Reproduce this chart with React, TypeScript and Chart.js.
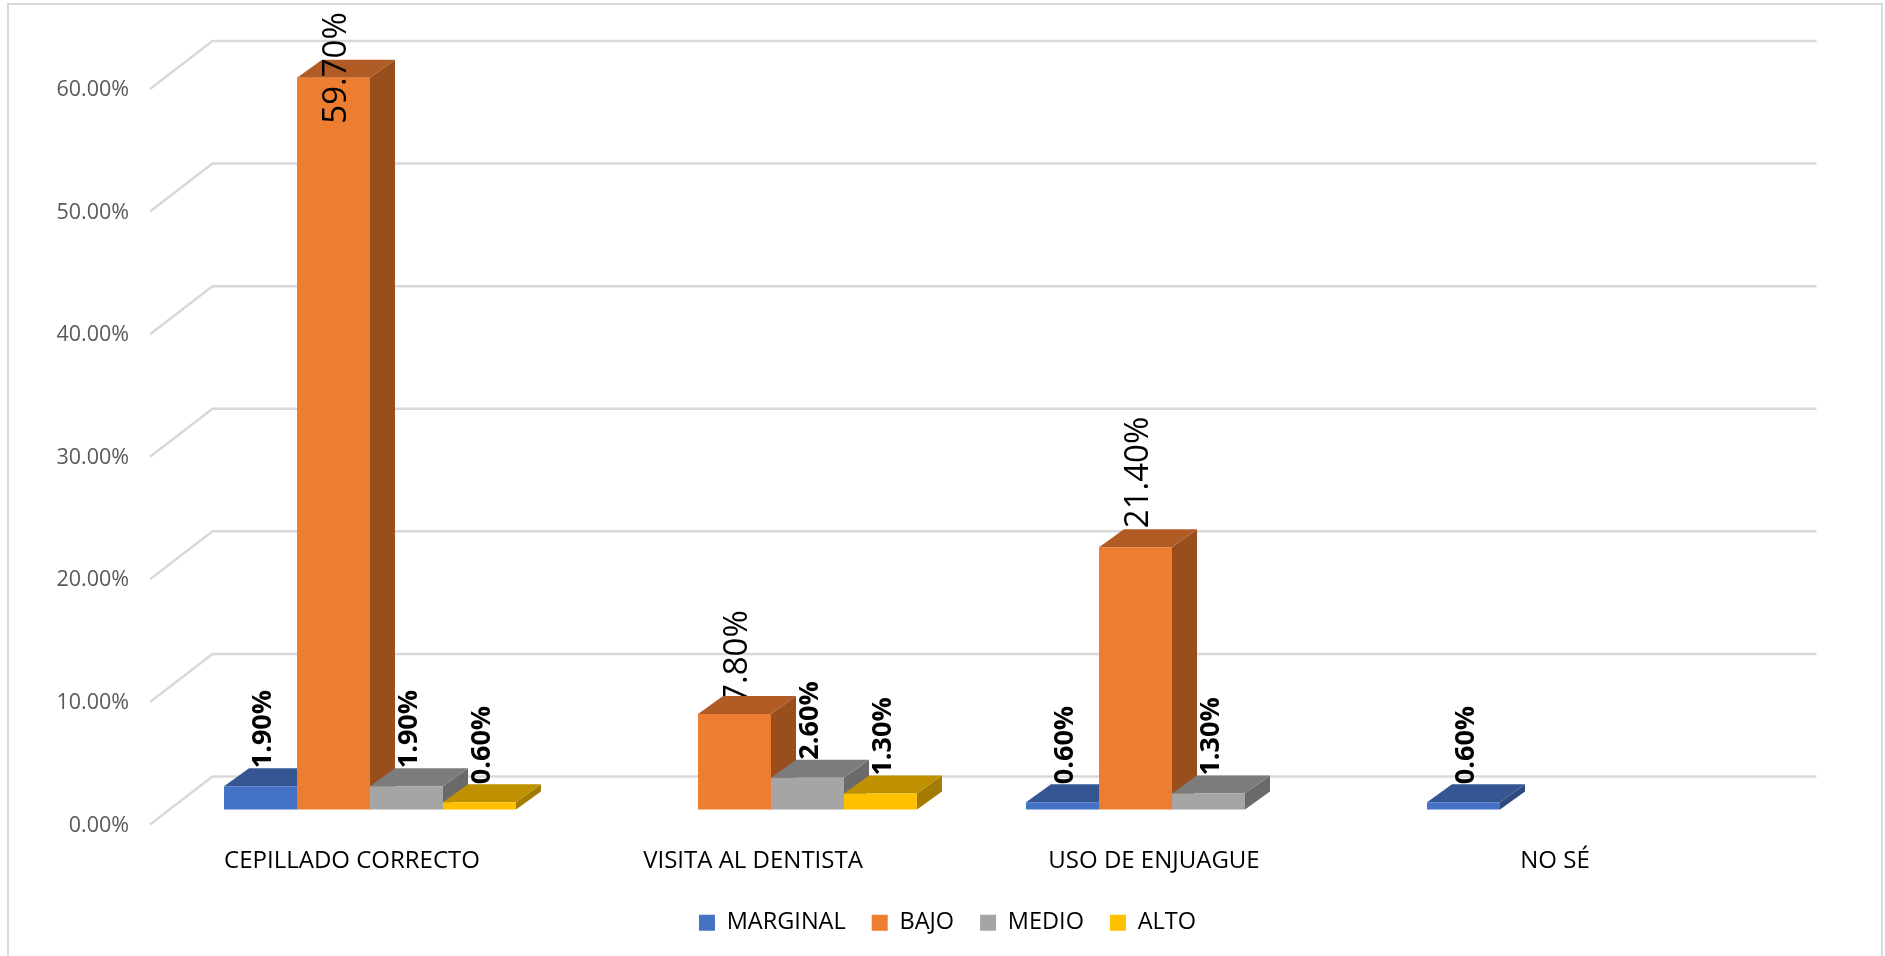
import React, { useEffect, useRef } from "react";
import { Chart, registerables } from "chart.js";

Chart.register(...registerables);

const categories = ["CEPILLADO CORRECTO", "VISITA AL DENTISTA", "USO DE ENJUAGUE", "NO SÉ"];
const marginal = [1.9, null, 0.6, 0.6];
const bajo = [59.7, 7.8, 21.4, null];
const medio = [1.9, 2.6, 1.3, null];
const alto = [0.6, 1.3, null, null];
const seriesNames = ["MARGINAL", "BAJO", "MEDIO", "ALTO"];
const yTicks = [0, 10, 20, 30, 40, 50, 60];

const FONT = "'Open Sans', sans-serif";
const frontColors = ["#4472C4", "#ED7D31", "#A5A5A5", "#FFC000"];
const topColors = ["#355693", "#B05C24", "#7C7C7C", "#BF9000"];
const sideColors = ["#2C4A80", "#984F1D", "#6A6A6A", "#A37B00"];
const labelFonts = [`bold 27px ${FONT}`, `33px ${FONT}`, `bold 27px ${FONT}`, `bold 27px ${FONT}`];

// 3D projection, in pixels, relative to the plane of the bar fronts
const DEPTH_X = 25;
const DEPTH_Y = 18;
const WALL_BACK_X = 43;
const WALL_BACK_Y = 33;
const WALL_FRONT_X = 19.5;
const WALL_FRONT_Y = 15;

// where a label starts above its bar's front top edge ("series:category")
const labelLift: Record<string, number> = { "1:0": -46, "1:1": 11, "1:2": 19 };
const DEFAULT_LIFT = 18;
const labelsBehindBar = new Set(["1:1"]);

function drawLabel(chart: any, d: number, i: number) {
  const el = chart.getDatasetMeta(d).data[i];
  const v = chart.data.datasets[d].data[i];
  if (v == null || !el) return;
  const lift = labelLift[`${d}:${i}`] ?? DEFAULT_LIFT;
  const { ctx } = chart;
  ctx.save();
  ctx.translate(el.x + 3, el.y - lift);
  ctx.rotate(-Math.PI / 2);
  ctx.font = labelFonts[d];
  ctx.fillStyle = "#000000";
  ctx.textAlign = "left";
  ctx.textBaseline = "middle";
  ctx.fillText(`${v.toFixed(2)}%`, 0, 0);
  ctx.restore();
}

const scene3d = {
  id: "scene3d",
  beforeDraw(chart: any) {
    const { ctx, width, height } = chart;
    ctx.save();
    ctx.strokeStyle = "#D9D9D9";
    ctx.lineWidth = 2;
    ctx.beginPath();
    ctx.moveTo(8, height);
    ctx.lineTo(8, 4);
    ctx.lineTo(width - 3, 4);
    ctx.lineTo(width - 3, height);
    ctx.stroke();
    ctx.restore();
  },
  // paints walls, then the bars from left to right (each one's side and top
  // first, then its front through the library's own bar controller), then labels
  beforeDatasetsDraw(chart: any) {
    const { ctx, chartArea, scales } = chart;
    ctx.save();
    ctx.strokeStyle = "#D9D9D9";
    ctx.lineWidth = 2.5;
    yTicks.forEach((t) => {
      const y = scales.y.getPixelForValue(t);
      ctx.beginPath();
      ctx.moveTo(chartArea.left - WALL_FRONT_X, y + WALL_FRONT_Y);
      ctx.lineTo(chartArea.left + WALL_BACK_X, y - WALL_BACK_Y);
      ctx.lineTo(chartArea.right + WALL_BACK_X, y - WALL_BACK_Y);
      ctx.stroke();
    });
    ctx.restore();

    chart.data.datasets.forEach((ds: any, d: number) => {
      const meta = chart.getDatasetMeta(d);
      meta.data.forEach((el: any, i: number) => {
        if (ds.data[i] == null) return;
        if (labelsBehindBar.has(`${d}:${i}`)) drawLabel(chart, d, i);
        const l = el.x - el.width / 2;
        const r = el.x + el.width / 2;
        ctx.fillStyle = sideColors[d];
        ctx.beginPath();
        ctx.moveTo(r, el.y);
        ctx.lineTo(r + DEPTH_X, el.y - DEPTH_Y);
        ctx.lineTo(r + DEPTH_X, el.base - DEPTH_Y);
        ctx.lineTo(r, el.base);
        ctx.closePath();
        ctx.fill();
        ctx.fillStyle = topColors[d];
        ctx.beginPath();
        ctx.moveTo(l, el.y);
        ctx.lineTo(l + DEPTH_X, el.y - DEPTH_Y);
        ctx.lineTo(r + DEPTH_X, el.y - DEPTH_Y);
        ctx.lineTo(r, el.y);
        ctx.closePath();
        ctx.fill();
      });
      meta.controller.draw();
    });

    chart.data.datasets.forEach((ds: any, d: number) => {
      ds.data.forEach((_: any, i: number) => {
        if (!labelsBehindBar.has(`${d}:${i}`)) drawLabel(chart, d, i);
      });
    });
    return false;
  },
};

export default function App() {
  const ref = useRef<HTMLCanvasElement>(null);
  useEffect(() => {
    document.body.style.margin = "0";
    const values = [marginal, bajo, medio, alto];
    const chart = new Chart(ref.current as HTMLCanvasElement, {
      type: "bar",
      data: {
        labels: categories,
        datasets: seriesNames.map((name, d) => ({
          label: name,
          data: values[d],
          backgroundColor: frontColors[d],
          categoryPercentage: 0.728,
          barPercentage: 1,
        })),
      },
      plugins: [scene3d],
      options: {
        responsive: false,
        animation: false,
        layout: { padding: { top: 74, left: 10, right: 0, bottom: 11.5 } },
        plugins: {
          tooltip: { enabled: false },
          title: { display: false },
          legend: {
            position: "bottom",
            labels: {
              boxWidth: 16,
              boxHeight: 16,
              padding: 26,
              color: "#000000",
              font: { family: FONT, size: 23.5 },
            },
          },
        },
        scales: {
          x: {
            grid: { display: false },
            border: { display: false },
            afterFit: (s: any) => {
              s.height = 75.5;
            },
            ticks: {
              color: "#000000",
              font: { family: FONT, size: 24 },
              padding: 29.5,
              labelOffset: -18,
              maxRotation: 0,
              autoSkip: false,
            },
          },
          y: {
            min: 0,
            max: 60,
            grid: { display: false },
            border: { display: false },
            afterFit: (s: any) => {
              s.width = 159.5;
            },
            ticks: {
              stepSize: 10,
              color: "#595959",
              font: { family: FONT, size: 21.5 },
              padding: 32.5,
              labelOffset: 16,
              callback: (v: any) => `${Number(v).toFixed(2)}%`,
            },
          },
          spacer: {
            position: "right",
            min: 0,
            max: 1,
            grid: { display: false },
            border: { display: false },
            ticks: { display: false },
            afterFit: (s: any) => {
              s.width = 111.5;
            },
          },
        },
      },
    } as any);
    return () => chart.destroy();
  }, []);
  return (
    <div style={{ position: "absolute", left: 0, top: 0, width: 1885, height: 956, overflow: "hidden" }}>
      <canvas ref={ref} width={1885} height={956} style={{ display: "block" }} />
    </div>
  );
}
